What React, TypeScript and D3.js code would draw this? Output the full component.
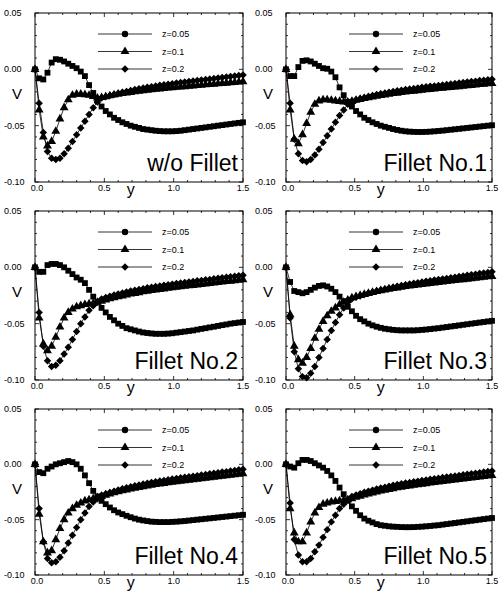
import React from "react";
import * as d3 from "d3";

// ---- data ----
const yPos = [0, .03, .06, .09, .12, .15, .18, .21, .24, .27, .30, .33, .36, .39, .42, .45, .48,
  .51, .54, .57, .60, .63, .66, .69, .72, .75, .78, .81, .84, .87, .90, .93, .96, .99,
  1.02, 1.05, 1.08, 1.11, 1.14, 1.17, 1.20, 1.23, 1.26, 1.29, 1.32, 1.35, 1.38, 1.41, 1.44, 1.47, 1.50];

const panelTitles = ["w/o Fillet", "Fillet No.1", "Fillet No.2", "Fillet No.3", "Fillet No.4", "Fillet No.5"];
const legendLabels = ["z=0.05", "z=0.1", "z=0.2"];
const xTickValues = [0, 0.5, 1.0, 1.5];
const xTickLabels = ["0.0", "0.5", "1.0", "1.5"];
const vTickValues = [0.05, 0, -0.05, -0.10];
const vTickLabels = ["0.05", "0.00", "-0.05", "-0.10"];

// w/o Fillet
const p0z005 = [0, -.008, -.009, -.003, .006, .009, .0085, .007, .005, .003, .001, -.002, -.006, -.014, -.021, -.028, -.033,
  -.037, -.040, -.043, -.045, -.047, -.0485, -.050, -.051, -.052, -.053, -.0535, -.054, -.0545, -.0548, -.055, -.055, -.055,
  -.0548, -.0545, -.054, -.0535, -.053, -.0525, -.052, -.0515, -.051, -.0505, -.050, -.0495, -.049, -.0485, -.048, -.0475, -.047];
const p0z01 = [0, -.036, -.060, -.068, -.064, -.055, -.044, -.034, -.027, -.023, -.022, -.022, -.0225, -.023, -.024, -.0255, -.025,
  -.0242, -.0235, -.0228, -.0221, -.0215, -.0209, -.0204, -.0199, -.0194, -.0189, -.0185, -.0181, -.0177, -.0173, -.017, -.0166, -.0163,
  -.0159, -.0156, -.0153, -.015, -.0147, -.0144, -.0141, -.0137, -.0134, -.0131, -.0128, -.0125, -.0122, -.0119, -.0116, -.0113, -.011];
const p0z02 = [0, -.030, -.056, -.073, -.079, -.080, -.079, -.075, -.070, -.064, -.058, -.052, -.046, -.040, -.034, -.029, -.0255,
  -.0243, -.0232, -.0222, -.0213, -.0204, -.0196, -.0187, -.018, -.0173, -.0166, -.016, -.0154, -.0147, -.0142, -.0137, -.0132, -.0127,
  -.0122, -.0117, -.0113, -.0108, -.0104, -.0099, -.0095, -.009, -.0086, -.0081, -.0077, -.0072, -.0068, -.0063, -.0059, -.0054, -.005];

// Fillet No.1
const p1z005 = [0, -.006, -.006, .002, .0075, .008, .007, .005, .003, .001, .0005, -.002, -.007, -.016, -.023, -.029, -.033,
  -.037, -.040, -.043, -.045, -.047, -.0485, -.050, -.051, -.052, -.053, -.0538, -.0545, -.055, -.0553, -.0555, -.0556, -.0556,
  -.0555, -.0553, -.055, -.0547, -.0544, -.054, -.0536, -.0532, -.0528, -.0524, -.052, -.0516, -.0512, -.0508, -.0504, -.050, -.0496];
const p1z01 = [0, -.036, -.062, -.066, -.058, -.048, -.038, -.031, -.028, -.027, -.027, -.0275, -.028, -.0285, -.029, -.029, -.0285,
  -.0275, -.0267, -.0259, -.0252, -.0245, -.0239, -.0232, -.0227, -.0221, -.0215, -.0211, -.0206, -.0201, -.0197, -.0193, -.0189, -.0185,
  -.0181, -.0178, -.0174, -.017, -.0167, -.0163, -.016, -.0156, -.0153, -.0149, -.0146, -.0142, -.0139, -.0135, -.0132, -.0128, -.0125];
const p1z02 = [0, -.030, -.062, -.075, -.081, -.082, -.080, -.076, -.071, -.065, -.059, -.053, -.047, -.041, -.036, -.031, -.028,
  -.0269, -.0259, -.0249, -.0241, -.0232, -.0224, -.0217, -.021, -.0203, -.0197, -.0191, -.0185, -.0179, -.0174, -.017, -.0165, -.016,
  -.0155, -.0151, -.0147, -.0143, -.0138, -.0134, -.013, -.0126, -.0121, -.0117, -.0113, -.0109, -.0105, -.01, -.0096, -.0092, -.0088];

// Fillet No.2
const p2z005 = [0, -.004, -.004, .002, .003, .003, .002, 0, -.003, -.006, -.009, -.011, -.014, -.020, -.026, -.031, -.036,
  -.040, -.044, -.047, -.050, -.052, -.054, -.055, -.056, -.057, -.0578, -.0583, -.0587, -.059, -.059, -.059, -.0588, -.0585,
  -.058, -.0575, -.057, -.0565, -.056, -.0553, -.0546, -.054, -.0533, -.0527, -.052, -.0513, -.0507, -.050, -.0495, -.049, -.0485];
const p2z01 = [0, -.045, -.068, -.074, -.070, -.062, -.053, -.045, -.040, -.037, -.035, -.034, -.033, -.0325, -.032, -.031, -.030,
  -.0289, -.0279, -.027, -.0261, -.0253, -.0245, -.0237, -.0231, -.0224, -.0217, -.0212, -.0206, -.02, -.0196, -.0191, -.0186, -.0181,
  -.0177, -.0172, -.0168, -.0164, -.016, -.0156, -.0151, -.0147, -.0143, -.0139, -.0135, -.013, -.0126, -.0122, -.0118, -.0114, -.011];
const p2z02 = [0, -.040, -.070, -.083, -.088, -.087, -.083, -.077, -.071, -.064, -.057, -.050, -.044, -.038, -.034, -.031, -.028,
  -.0267, -.0257, -.0246, -.0237, -.0228, -.0219, -.0211, -.0203, -.0196, -.0189, -.0182, -.0176, -.017, -.0165, -.0159, -.0154, -.0149,
  -.0144, -.0139, -.0134, -.013, -.0125, -.012, -.0116, -.0111, -.0107, -.0102, -.0097, -.0093, -.0088, -.0083, -.0079, -.0074, -.007];

// Fillet No.3
const p3z005 = [0, -.013, -.021, -.022, -.023, -.022, -.020, -.018, -.0165, -.016, -.017, -.019, -.022, -.026, -.030, -.035, -.039,
  -.043, -.046, -.048, -.050, -.0515, -.0527, -.0537, -.0545, -.055, -.0555, -.0558, -.056, -.056, -.056, -.056, -.0558, -.0555,
  -.0552, -.0548, -.0544, -.054, -.0535, -.053, -.0525, -.052, -.0515, -.051, -.0505, -.050, -.0495, -.049, -.0485, -.048, -.0475];
const p3z01 = [0, -.042, -.070, -.082, -.085, -.080, -.072, -.063, -.055, -.048, -.043, -.039, -.036, -.033, -.031, -.029, -.027,
  -.0259, -.0249, -.024, -.0231, -.0223, -.0215, -.0207, -.0201, -.0194, -.0187, -.0182, -.0176, -.017, -.0166, -.0161, -.0156, -.0151,
  -.0147, -.0142, -.0138, -.0134, -.013, -.0126, -.0121, -.0117, -.0113, -.0109, -.0105, -.01, -.0096, -.0092, -.0088, -.0084, -.008];
const p3z02 = [0, -.045, -.075, -.090, -.097, -.098, -.094, -.088, -.080, -.072, -.064, -.056, -.049, -.042, -.036, -.031, -.028,
  -.0266, -.0254, -.0242, -.0231, -.022, -.021, -.0201, -.0192, -.0184, -.0176, -.0168, -.0161, -.0154, -.0148, -.0142, -.0136, -.013,
  -.0124, -.0119, -.0113, -.0108, -.0103, -.0098, -.0092, -.0087, -.0082, -.0076, -.0071, -.0066, -.0061, -.0055, -.005, -.0045, -.004];

// Fillet No.4
const p4z005 = [0, -.007, -.008, -.004, -.002, 0, .001, .002, .003, .002, 0, -.004, -.010, -.017, -.024, -.029, -.033,
  -.036, -.039, -.0415, -.0435, -.045, -.0465, -.0478, -.049, -.050, -.0507, -.0513, -.0518, -.052, -.0522, -.0522, -.0522, -.052,
  -.0518, -.0515, -.0512, -.0508, -.0504, -.050, -.0496, -.0492, -.0488, -.0484, -.048, -.0476, -.0472, -.0468, -.0464, -.046, -.0456];
const p4z01 = [0, -.045, -.070, -.080, -.078, -.068, -.058, -.050, -.044, -.040, -.037, -.035, -.033, -.032, -.031, -.030, -.029,
  -.0278, -.0267, -.0257, -.0248, -.0239, -.0231, -.0222, -.0215, -.0208, -.0201, -.0195, -.0189, -.0182, -.0177, -.0172, -.0167, -.0162,
  -.0157, -.0152, -.0148, -.0143, -.0139, -.0134, -.013, -.0125, -.0121, -.0116, -.0112, -.0107, -.0103, -.0098, -.0094, -.0089, -.0085];
const p4z02 = [0, -.040, -.070, -.085, -.089, -.088, -.084, -.078, -.071, -.064, -.057, -.050, -.044, -.038, -.034, -.031, -.028,
  -.0266, -.0255, -.0243, -.0232, -.0221, -.0211, -.0203, -.0194, -.0186, -.0178, -.017, -.0163, -.0157, -.0151, -.0145, -.0139, -.0133,
  -.0127, -.0122, -.0116, -.0112, -.0107, -.0102, -.0096, -.0091, -.0086, -.008, -.0075, -.007, -.0066, -.006, -.0055, -.005, -.0045];

// Fillet No.5
const p5z005 = [0, -.002, -.003, .001, .004, .004, .003, .001, -.001, -.003, -.006, -.010, -.015, -.021, -.027, -.033, -.038,
  -.042, -.046, -.049, -.051, -.0525, -.054, -.055, -.0555, -.056, -.0563, -.0565, -.0567, -.0568, -.0568, -.0567, -.0565, -.0563,
  -.056, -.0557, -.0553, -.055, -.0545, -.054, -.0535, -.053, -.0525, -.052, -.0515, -.051, -.0505, -.050, -.0495, -.049, -.0485];
const p5z01 = [0, -.040, -.062, -.070, -.070, -.062, -.052, -.044, -.039, -.036, -.035, -.034, -.0335, -.033, -.0325, -.032, -.031,
  -.0297, -.0287, -.0276, -.0267, -.0258, -.0249, -.0241, -.0233, -.0226, -.0219, -.0212, -.0206, -.02, -.0195, -.0189, -.0184, -.0179,
  -.0174, -.0169, -.0164, -.016, -.0155, -.015, -.0146, -.0141, -.0137, -.0132, -.0127, -.0123, -.0118, -.0113, -.0109, -.0104, -.01];
const p5z02 = [0, -.035, -.068, -.082, -.088, -.088, -.085, -.079, -.073, -.066, -.059, -.052, -.046, -.040, -.036, -.032, -.029,
  -.0276, -.0265, -.0253, -.0243, -.0233, -.0223, -.0214, -.0206, -.0198, -.019, -.0183, -.0176, -.0169, -.0164, -.0158, -.0152, -.0146,
  -.0141, -.0135, -.013, -.0125, -.012, -.0115, -.011, -.0105, -.01, -.0095, -.009, -.0085, -.008, -.0075, -.007, -.0065, -.006];

const panelSeries = [
  [p0z005, p0z01, p0z02],
  [p1z005, p1z01, p1z02],
  [p2z005, p2z01, p2z02],
  [p3z005, p3z01, p3z02],
  [p4z005, p4z01, p4z02],
  [p5z005, p5z01, p5z02],
];

// ---- layout ----
const W = 499, H = 596;
const cols = [[35, 243], [286, 492]];
const rows = [[13, 182], [211, 380], [409, 575]];
const FONT = "'Liberation Sans', Arial, Helvetica, sans-serif";

const squarePath = d3.symbol().type(d3.symbolSquare).size(34)() as string;
const trianglePath = d3.symbol().type(d3.symbolTriangle).size(34)() as string;
const diamondPath = d3.symbol().type(d3.symbolSquare).size(28)() as string;
const circlePath = d3.symbol().type(d3.symbolCircle).size(32)() as string;

function Panel({ idx }: { idx: number }) {
  const [x0, x1] = cols[idx % 2];
  const [y0, y1] = rows[Math.floor(idx / 2)];
  const xs = d3.scaleLinear().domain([0, 1.5]).range([x0, x1]);
  const ys = d3.scaleLinear().domain([-0.10, 0.05]).range([y1, y0]);
  const series = panelSeries[idx];
  const line = d3.line<number>().x((_, i) => xs(yPos[i])).y((d) => ys(d));
  const minorX = d3.range(0, 1.51, 0.1);
  const minorV = d3.range(-0.1, 0.0501, 0.01);
  const markerPaths = [squarePath, trianglePath, diamondPath];
  const legendMarkers = [circlePath, trianglePath, diamondPath];
  return (
    <g>
      {/* series */}
      {series.map((vals, si) => (
        <g key={si}>
          <path d={line(vals) || ""} fill="none" stroke="#000" strokeWidth={0.8} />
          {vals.map((v, i) => (
            <path key={i} d={markerPaths[si]}
              transform={`translate(${xs(yPos[i])},${ys(v)})${si === 2 ? " rotate(45)" : ""}`}
              fill="#000" />
          ))}
        </g>
      ))}
      {/* frame */}
      <rect x={x0} y={y0} width={x1 - x0} height={y1 - y0} fill="none" stroke="#000" strokeWidth={1} />
      {minorX.map((t, i) => {
        const major = Math.abs(t * 2 - Math.round(t * 2)) < 1e-6;
        const len = major ? 4 : 2;
        return (
          <g key={"tx" + i}>
            <line x1={xs(t)} x2={xs(t)} y1={y1} y2={y1 - len} stroke="#000" strokeWidth={0.8} />
            <line x1={xs(t)} x2={xs(t)} y1={y0} y2={y0 + len} stroke="#000" strokeWidth={0.8} />
          </g>
        );
      })}
      {minorV.map((t, i) => {
        const major = Math.abs(t * 20 - Math.round(t * 20)) < 1e-6;
        const len = major ? 4 : 2;
        return (
          <g key={"tv" + i}>
            <line x1={x0} x2={x0 + len} y1={ys(t)} y2={ys(t)} stroke="#000" strokeWidth={0.8} />
            <line x1={x1} x2={x1 - len} y1={ys(t)} y2={ys(t)} stroke="#000" strokeWidth={0.8} />
          </g>
        );
      })}
      {/* tick labels */}
      {vTickValues.map((t, i) => (
        <text key={"vl" + i} x={x0 - 31} y={ys(t)} dy="0.35em" fontSize={9} fontFamily={FONT} fill="#000">
          {vTickLabels[i]}
        </text>
      ))}
      {xTickValues.map((t, i) => (
        <text key={"xl" + i} x={xs(t) + (i === 0 ? 2 : 0)} y={y1 + 9} textAnchor="middle" fontSize={9} fontFamily={FONT} fill="#000">
          {xTickLabels[i]}
        </text>
      ))}
      {/* axis titles */}
      <text x={x0 - 18} y={ys(-0.022)} dy="0.35em" textAnchor="middle" fontSize={15} fontFamily={FONT} fill="#000">V</text>
      <text x={xs(0.69)} y={y1 + 13} textAnchor="middle" fontSize={16} fontFamily={FONT} fill="#000">y</text>
      {/* legend */}
      {legendLabels.map((lab, i) => {
        const ly = y0 + 21 + i * 17.5;
        return (
          <g key={"lg" + i}>
            <line x1={x0 + 63} x2={x0 + 117} y1={ly} y2={ly} stroke="#000" strokeWidth={0.8} />
            <path d={legendMarkers[i]} transform={`translate(${x0 + 90},${ly})${i === 2 ? " rotate(45)" : ""}`} fill="#000" />
            <text x={x0 + 127} y={ly} dy="0.35em" fontSize={9} fontFamily={FONT} fill="#000">{lab}</text>
          </g>
        );
      })}
      {/* panel title */}
      <text x={x1 - 5} y={y1 - 11} textAnchor="end" fontSize={23} fontFamily={FONT} fill="#000">
        {panelTitles[idx]}
      </text>
    </g>
  );
}

export default function App() {
  return (
    <svg width={W} height={H} viewBox={`0 0 ${W} ${H}`}
      style={{ position: "absolute", left: 0, top: 0, background: "#fff" }}>
      <rect x={0} y={0} width={W} height={H} fill="#fff" />
      {panelTitles.map((_, i) => <Panel key={i} idx={i} />)}
    </svg>
  );
}
